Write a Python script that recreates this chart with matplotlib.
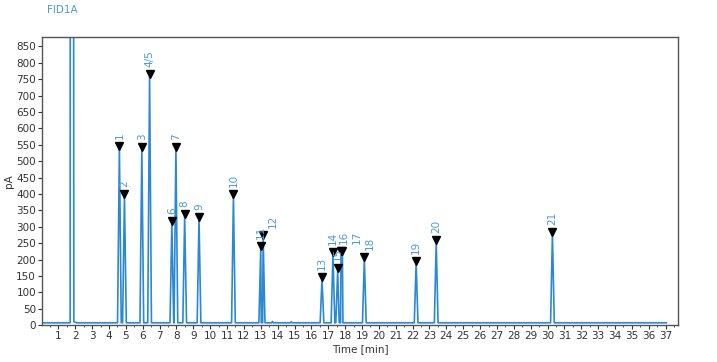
import matplotlib.pyplot as plt
from matplotlib.ticker import MultipleLocator

# peak table: retention time [min], height [pA], label
peak_times = [4.62, 4.92, 5.95, 6.41, 7.73, 7.97, 8.49, 9.34, 11.38, 13.00,
              13.14, 16.63, 17.28, 17.56, 17.76, 17.84, 19.14, 22.21, 23.40, 30.29]
peak_heights = [541, 394, 538, 761, 312, 538, 333, 325, 394, 236,
                269, 141, 216, 168, 219, 221, 203, 190, 255, 277]
peak_labels = ["1", "2", "3", "4/5", "6", "7", "8", "9", "10", "11",
               "12", "13", "14", "15", "16", "17", "18", "19", "20", "21"]

# solvent peak runs off the top of the scale
solvent_time = 1.80
solvent_height = 3000
# tiny unlabelled bumps
bump_times = [13.70, 14.80]
bump_heights = [11, 10]

baseline = 7
run_start, run_end = 0.05, 37.05

blue = "#2b88d2"
label_blue = "#4a9ad8"

# build the trace as a list of points from the peak table
trace = [(run_start, baseline)]
trace += [(solvent_time - 0.10, baseline), (solvent_time - 0.08, solvent_height),
          (solvent_time + 0.08, solvent_height), (solvent_time + 0.12, baseline + 3),
          (solvent_time + 0.30, baseline)]
all_peaks = sorted(list(zip(peak_times, peak_heights)) + list(zip(bump_times, bump_heights)))
for t, h in all_peaks:
    w = 0.11 if h > 50 else 0.05
    trace += [(t - w, baseline), (t, h), (t + w, baseline)]
trace.append((run_end, baseline))
trace.sort()
xs = [p[0] for p in trace]
ys = [p[1] for p in trace]

fig = plt.figure(figsize=(7.17, 3.62), dpi=100)
ax = fig.add_axes([0.059, 0.102, 0.887, 0.797])

ax.plot(xs, ys, color=blue, lw=1.2)
ax.plot(peak_times, [h + 6 for h in peak_heights], linestyle="none",
        marker="v", color="black", markersize=6)

# label nudges (minutes) where the labels were pushed aside
label_shift = {"12": 0.55, "16": 0.18, "17": 0.88, "18": 0.33}
for t, h, lab in zip(peak_times, peak_heights, peak_labels):
    dx = label_shift.get(lab, 0.0)
    ax.annotate(lab, (t + dx, h + 6), xytext=(0, 5), textcoords="offset points",
                rotation=90, ha="center", va="bottom", fontsize=7.5, color=label_blue)

ax.set_xlim(0.05, 37.75)
ax.set_ylim(0, 880)
ax.xaxis.set_minor_locator(MultipleLocator(0.5))
ax.set_xticks(range(1, 38))
ax.set_yticks(range(0, 851, 50))
ax.tick_params(axis="both", labelsize=7.5, colors="#333333", length=3, width=0.8, pad=1.5)
ax.tick_params(axis="x", which="minor", length=1.5, width=0.6, colors="#333333")
for s in ax.spines.values():
    s.set_color("#555555")
    s.set_linewidth(1.0)

ax.set_xlabel("Time [min]", fontsize=7.5, color="#333333", labelpad=2)
ax.set_ylabel("pA", fontsize=7.5, color="#333333", labelpad=2)
fig.text(0.066, 0.972, "FID1A", fontsize=7.5, color=label_blue, va="center")

fig.savefig("out.png", dpi=100)
